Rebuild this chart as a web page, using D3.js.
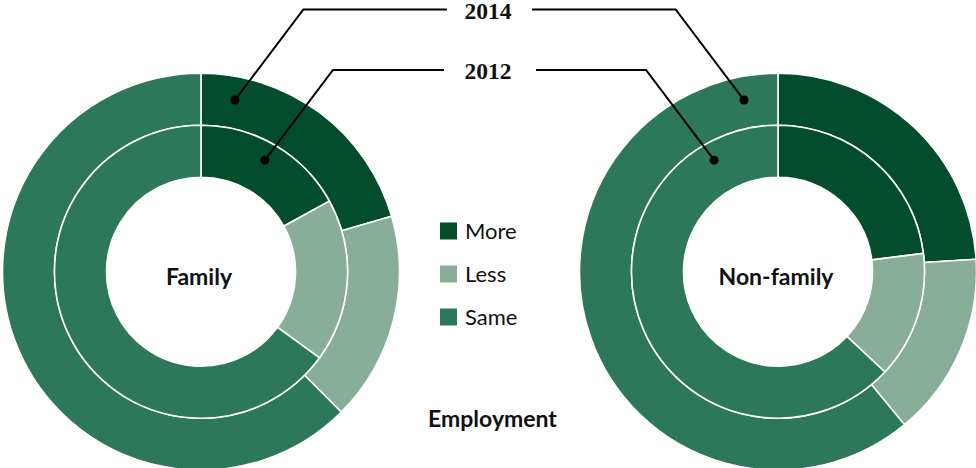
<!DOCTYPE html>
<html>
<head>
<meta charset="utf-8">
<script src="https://cdn.jsdelivr.net/npm/d3@7"></script>
<style>
  html, body { margin: 0; padding: 0; background: #fff; }
  svg { display: block; }
</style>
</head>
<body>
<svg id="chart" width="976" height="468"></svg>
<script>
// Employment change, share of respondents (%)
const categories = ["More", "Less", "Same"];
const years = ["2012", "2014"];
const familyValues2012 = [17, 18, 65];
const familyValues2014 = [20.5, 17, 62.5];
const nonFamilyValues2012 = [23, 14, 63];
const nonFamilyValues2014 = [24, 15, 61];
const groupLabels = ["Family", "Non-family"];
const chartTitle = "Employment";

const colors = d3.scaleOrdinal()
  .domain(categories)
  .range(["#034d2e", "#88ad99", "#2d775a"]);

const svg = d3.select("#chart");

const rHole = 94.5, rMid = 146.5, rOuter = 198.5;
const cy = 271.7;
const groups = [
  { label: groupLabels[0], cx: 201, inner: familyValues2012, outer: familyValues2014, side: -1 },
  { label: groupLabels[1], cx: 778, inner: nonFamilyValues2012, outer: nonFamilyValues2014, side: 1 }
];

const pie = d3.pie().sort(null).value(d => d.value);
const innerArc = d3.arc().innerRadius(rHole).outerRadius(rMid);
const outerArc = d3.arc().innerRadius(rMid).outerRadius(rOuter);

const sansFont = "Lato, 'Noto Sans', sans-serif";
const serifFont = "'Liberation Serif', 'DejaVu Serif', serif";

groups.forEach(g => {
  const gg = svg.append("g").attr("transform", `translate(${g.cx},${cy})`);
  [[g.outer, outerArc], [g.inner, innerArc]].forEach(([vals, arc]) => {
    const data = pie(categories.map((c, i) => ({ cat: c, value: vals[i] })));
    gg.selectAll(null).data(data).enter().append("path")
      .attr("d", arc)
      .attr("fill", d => colors(d.data.cat))
      .attr("stroke", "#fff")
      .attr("stroke-width", 1.6)
      .attr("stroke-linejoin", "miter");
  });
  gg.append("text")
    .attr("x", -2).attr("y", 13)
    .attr("text-anchor", "middle")
    .attr("font-family", sansFont)
    .attr("font-weight", 700)
    .attr("font-size", 23)
    .attr("fill", "#111")
    .text(g.label);
});

// Year callouts: a dot in each ring, leader line to a label in the middle
const labelX = 488;
const callouts = [
  { year: years[1], textY: 19, lineY: 9.5, ringR: 175, angle: 11.2, gapL: 41, gapR: 44 },
  { year: years[0], textY: 78.5, lineY: 70, ringR: 128.5, angle: 29.8, gapL: 44, gapR: 48 }
];

callouts.forEach(c => {
  groups.forEach(g => {
    const a = c.angle * Math.PI / 180 * -g.side;
    const px = g.cx + c.ringR * Math.sin(a);
    const py = cy - c.ringR * Math.cos(a);
    const s = g.side === -1 ? -1 : 1;
    // corner sits above the dot, shifted toward the middle label
    const cornerX = px + s * (c.lineY - py) * 0.755;
    const pts = [
      [px, py],
      [cornerX, c.lineY],
      [labelX + (s < 0 ? -c.gapL : c.gapR), c.lineY]
    ];
    svg.append("path")
      .attr("d", d3.line()(pts))
      .attr("fill", "none")
      .attr("stroke", "#000")
      .attr("stroke-width", 2);
    svg.append("circle")
      .attr("cx", px).attr("cy", py).attr("r", 4.5)
      .attr("fill", "#000");
  });
  svg.append("text")
    .attr("x", labelX).attr("y", c.textY)
    .attr("text-anchor", "middle")
    .attr("font-family", serifFont)
    .attr("font-weight", 700)
    .attr("font-size", 23.5)
    .attr("fill", "#111")
    .text(c.year);
});

// Legend
const legendY = d3.scalePoint().domain(categories).range([231, 317]);
const legend = svg.append("g");
categories.forEach(cat => {
  legend.append("rect")
    .attr("x", 440).attr("y", legendY(cat) - 8.5)
    .attr("width", 17).attr("height", 17)
    .attr("fill", colors(cat));
  legend.append("text")
    .attr("x", 465).attr("y", legendY(cat) + 8)
    .attr("font-family", sansFont)
    .attr("font-weight", 400)
    .attr("font-size", 22)
    .attr("fill", "#111")
    .text(cat);
});

svg.append("text")
  .attr("x", 492.5).attr("y", 427)
  .attr("text-anchor", "middle")
  .attr("font-family", sansFont)
  .attr("font-weight", 700)
  .attr("font-size", 23)
  .attr("fill", "#111")
  .text(chartTitle);
</script>
</body>
</html>
